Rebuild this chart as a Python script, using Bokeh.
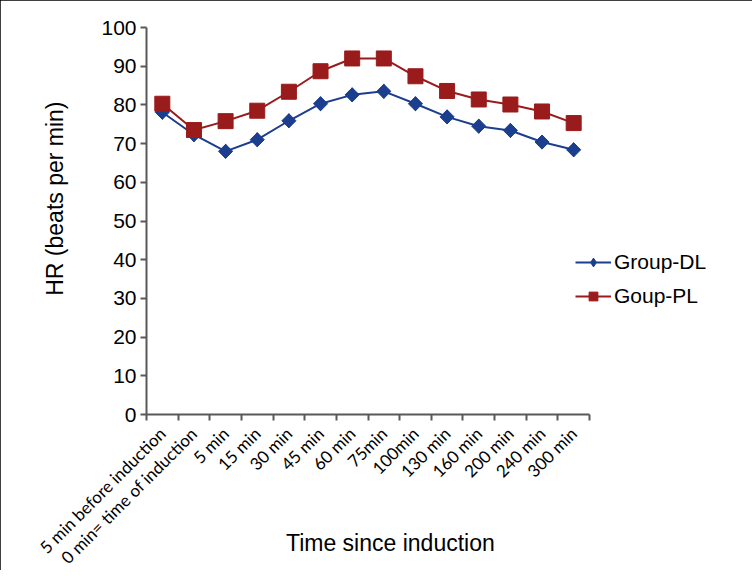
import math
from bokeh.plotting import figure
from bokeh.models import ColumnDataSource, FixedTicker, Legend, LegendItem, Range1d
from bokeh.embed import file_html
from bokeh.resources import INLINE

categories = ["5 min before induction", "0 min= time of induction", "5 min", "15 min",
              "30 min", "45 min", "60 min", "75min", "100min", "130 min", "160 min",
              "200 min", "240 min", "300 min"]
group_dl = [78.1, 72.3, 68.0, 71.0, 75.9, 80.3, 82.6, 83.5, 80.3, 76.9, 74.5, 73.4, 70.4, 68.4]
group_pl = [80.3, 73.5, 75.8, 78.5, 83.4, 88.7, 92.0, 92.0, 87.4, 83.6, 81.4, 80.1, 78.3, 75.3]
y_ticks = [0, 10, 20, 30, 40, 50, 60, 70, 80, 90, 100]

xs = [i + 0.5 for i in range(len(categories))]
src = ColumnDataSource(dict(x=xs, dl=group_dl, pl=group_pl))

p = figure(frame_width=443, frame_height=387, output_backend="svg", toolbar_location=None,
           x_range=Range1d(0, len(categories)), y_range=Range1d(0, 100),
           min_border_left=146, min_border_right=147, min_border_top=27, min_border_bottom=156)
p.outline_line_color = None
p.xgrid.visible = False
p.ygrid.visible = False
p.styles = {"outline": "1px solid #000000", "outline-offset": "-1px"}

DL_COLOR = "#1B3E8E"
PL_COLOR = "#9A1B1B"

r_dl_l = p.line("x", "dl", source=src, line_color=DL_COLOR, line_width=2)
# legend glyph (fully covered by the rotated-square marker drawn on top of it)
r_dl_leg = p.scatter("x", "dl", source=src, marker="diamond", size=14,
                     fill_color=DL_COLOR, line_color=DL_COLOR)
r_dl_m = p.scatter("x", "dl", source=src, marker="square", angle=math.pi / 4, size=10,
                   fill_color=DL_COLOR, line_color=DL_COLOR)
r_pl_l = p.line("x", "pl", source=src, line_color=PL_COLOR, line_width=2)
r_pl_leg = p.scatter("x", "pl", source=src, marker="square", size=12,
                     fill_color=PL_COLOR, line_color=PL_COLOR)
r_pl_m = p.scatter("x", "pl", source=src, marker="square", size=15, fill_color=PL_COLOR, line_color=PL_COLOR)

NBSP = "\u00a0" * 7

# y axis
ya = p.yaxis[0]
ya.ticker = FixedTicker(ticks=y_ticks)
ya.axis_line_color = "#595959"
ya.axis_line_width = 2
ya.major_tick_line_color = "#595959"
ya.major_tick_line_width = 2
ya.major_tick_out = 6
ya.major_tick_in = 0
ya.minor_tick_line_color = None
ya.major_label_text_font = "Liberation Sans"
ya.major_label_text_font_size = "21px"
ya.major_label_text_color = "#000000"
ya.major_label_standoff = 4
ya.axis_label = NBSP + "HR (beats per min)"
ya.axis_label_text_font = "Liberation Sans"
ya.axis_label_text_font_size = "23px"
ya.axis_label_text_font_style = "normal"
ya.axis_label_text_color = "#000000"
ya.axis_label_standoff = 30

# x axis
xa = p.xaxis[0]
xa.ticker = FixedTicker(ticks=xs, minor_ticks=list(range(len(categories) + 1)))
xa.major_label_overrides = {x: c for x, c in zip(xs, categories)}
xa.major_label_orientation = math.pi / 4
xa.axis_line_color = "#595959"
xa.axis_line_width = 2
xa.major_tick_line_color = None
xa.major_tick_out = 0
xa.major_tick_in = 0
xa.minor_tick_line_color = "#595959"
xa.minor_tick_line_width = 2
xa.minor_tick_out = 6
xa.minor_tick_in = 0
xa.major_label_text_font = "Lato"
xa.major_label_text_font_size = "17px"
xa.major_label_text_color = "#000000"
xa.major_label_standoff = 10
xa.axis_label = NBSP + "Time since induction"
xa.axis_label_text_font = "Liberation Sans"
xa.axis_label_text_font_size = "23px"
xa.axis_label_text_font_style = "normal"
xa.axis_label_text_color = "#000000"
xa.axis_label_standoff = -48

legend = Legend(items=[LegendItem(label="Group-DL", renderers=[r_dl_l, r_dl_leg]),
                       LegendItem(label="Goup-PL", renderers=[r_pl_l, r_pl_leg])],
                location=(-14, 106))
legend.border_line_color = None
legend.background_fill_alpha = 0
legend.margin = 0
legend.padding = 0
legend.label_text_font = "Liberation Sans"
legend.label_text_font_size = "21px"
legend.label_text_color = "#000000"
legend.glyph_width = 36
legend.glyph_height = 22
legend.spacing = 10
legend.label_standoff = 3
p.add_layout(legend, "right")

open("out.html", "w").write(file_html(p, INLINE))
